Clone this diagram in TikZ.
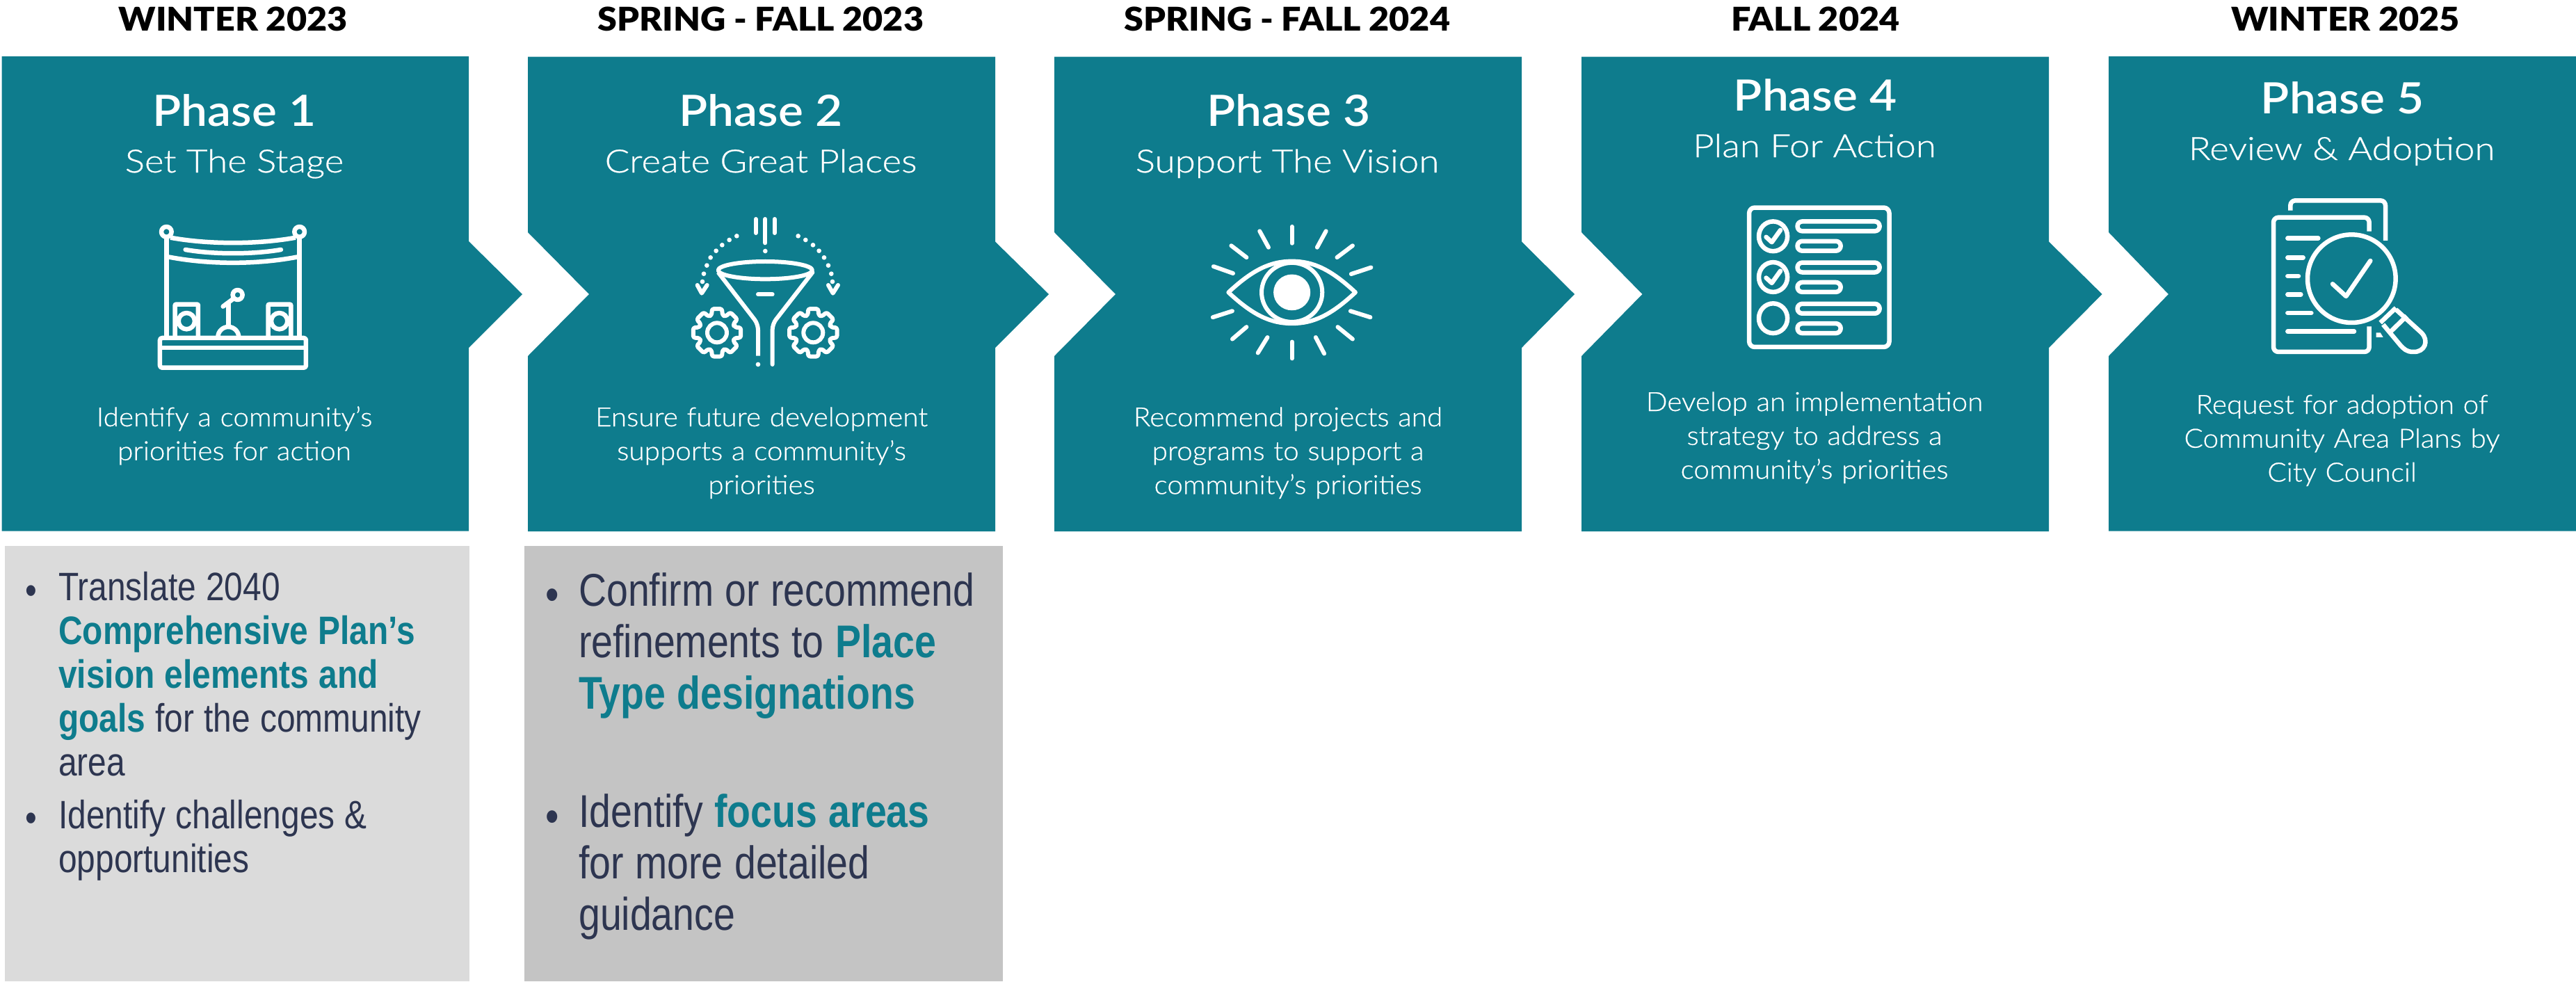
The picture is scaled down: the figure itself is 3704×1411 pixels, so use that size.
\documentclass[tikz,border=0pt]{standalone}
\usepackage{fontspec}
\setmainfont{Lato}
\newfontfamily\hdrfont[FakeStretch=1.07]{Lato Black}
\newfontfamily\ttlfont[FakeStretch=1.09]{Lato Semibold}
\newfontfamily\subfont[FakeStretch=1.15,FakeBold=.6]{Lato Light}
\newfontfamily\descfont[FakeStretch=1.065,FakeBold=.6]{Lato Light}
\newfontfamily\lowfont[FakeStretch=.84]{Liberation Sans}
\definecolor{teal}{HTML}{0E7C8D}
\definecolor{inkblue}{HTML}{2D3550}
\definecolor{lowone}{HTML}{DBDBDB}
\definecolor{lowtwo}{HTML}{C4C4C4}
\tikzset{
  phasebox/.style={fill=teal},
  hdr/.style={anchor=base,inner sep=0,text=black,font=\hdrfont\fontsize{47}{56}\selectfont},
  ttl/.style={anchor=base,inner sep=0,text=white,font=\ttlfont\fontsize{62}{72}\selectfont},
  sub/.style={anchor=base,inner sep=0,text=white,font=\subfont\fontsize{46}{56}\selectfont},
  descr/.style={anchor=base,inner sep=0,text=white,text width=650pt,align=center,font=\descfont\fontsize{38}{48.7}\selectfont},
  lowa/.style={anchor=base west,inner sep=0,text=inkblue,text width=580pt,align=left,font=\lowfont\fontsize{57}{63}\selectfont},
  lowb/.style={anchor=base west,inner sep=0,text=inkblue,text width=600pt,align=left,font=\lowfont\fontsize{66}{74}\selectfont},
  bula/.style={anchor=center,inner sep=0,text=inkblue,font=\lowfont\fontsize{57}{63}\selectfont},
  bulb/.style={anchor=center,inner sep=0,text=inkblue,font=\lowfont\fontsize{66}{74}\selectfont},
  icon/.style={draw=white,line width=6pt,line cap=round,line join=round},
  iconfill/.style={fill=white},
}
\newcommand{\hl}[1]{{\bfseries\color{teal}#1}}
\newcommand{\lowsp}{\setlength{\spaceskip}{.25em}}
\begin{document}
\begin{tikzpicture}[x=1pt,y=-1pt]
\useasboundingbox (0,0) rectangle (3704,1411);
% phase shapes
\fill[phasebox] (2.5,81)--(674,81)--(674,347)--(751,423)--(674,500)--(674,763.7)--(2.5,763.7)--cycle;
\fill[phasebox] (759,81.5)--(1431,81.5)--(1431,347.5)--(1508,423)--(1431,500)--(1431,764)--(759,764)--(759,512)--(847,423)--(759,334)--cycle;
\fill[phasebox] (1516,81.5)--(2188,81.5)--(2188,347.5)--(2264,423)--(2188,500)--(2188,764)--(1516,764)--(1516,512)--(1604,423)--(1516,334)--cycle;
\fill[phasebox] (2274,81.5)--(2946,81.5)--(2946,347.5)--(3022.6,423)--(2946,500)--(2946,764)--(2274,764)--(2274,512)--(2361.5,423)--(2274,334)--cycle;
\fill[phasebox] (3032,81)--(3704,81)--(3704,763.7)--(3032,763.7)--(3032,512)--(3118,423)--(3032,334)--cycle;
% lower panels
\fill[lowone] (7,785) rectangle (675,1411);
\fill[lowtwo] (754,785) rectangle (1442,1411);
% headers
\node[hdr] (h1) at (335,44) {WINTER 2023};
\node[hdr] (h2) at (1094,44) {SPRING - FALL 2023};
\node[hdr] (h3) at (1851,44) {SPRING - FALL 2024};
\node[hdr] (h4) at (2610.5,44) {FALL 2024};
\node[hdr] (h5) at (3372.6,44) {WINTER 2025};
% titles
\node[ttl] (t1) at (337,181.5) {Phase 1};
\node[ttl] (t2) at (1094,181.5) {Phase 2};
\node[ttl] (t3) at (1853,181.5) {Phase 3};
\node[ttl] (t4) at (2610,159) {Phase 4};
\node[ttl] (t5) at (3368,163) {Phase 5};
\node[sub] (s1) at (337,248) {Set The Stage};
\node[sub] (s2) at (1094,248) {Create Great Places};
\node[sub] (s3) at (1851,248) {Support The Vision};
\node[sub] (s4) at (2609,226) {Plan For Action};
\node[sub] (s5) at (3367,230) {Review \& Adoption};
\node[descr] (d1) at (337,613) {Identify a community’s\\priorities for action};
\node[descr] (d2) at (1095,613) {Ensure future development\\supports a community’s\\priorities};
\node[descr] (d3) at (1852,613) {Recommend projects and\\programs to support a\\community’s priorities};
\node[descr] (d4) at (2609,591) {Develop an implementation\\strategy to address a\\community’s priorities};
\node[descr] (d5) at (3367.5,595) {Request for adoption of\\Community Area Plans by\\City Council};
% lower text
\node[bula] (ba1) at (45,855) {•};
\node[lowa] (la1) at (84,863) {\lowsp Translate 2040\\\hl{Comprehensive Plan’s}\\\hl{vision elements and}\\\hl{goals} for the community\\area};
\node[bula] (ba2) at (45,1182) {•};
\node[lowa] (la2) at (84,1191) {\lowsp Identify challenges \&\\opportunities};
\node[bulb] (bb1) at (794,862) {•};
\node[lowb] (lb1) at (832,871) {\lowsp Confirm or recommend\\refinements to \hl{Place}\\\hl{Type designations}};
\node[bulb] (bb2) at (794,1181) {•};
\node[lowb] (lb2) at (832,1189.5) {\lowsp Identify \hl{focus areas}\\for more detailed\\guidance};
% icon 1 : stage
\begin{scope}[shift={(200,290)},x=.3333pt,y=-.3333pt,every path/.append style={icon,line width=6.5pt}]
  \draw (118,130) circle[radius=22];
  \draw (692,130) circle[radius=22];
  \draw[line cap=butt] (118,152)--(118,585);
  \draw[line cap=butt] (692,152)--(692,585);
  \draw[line cap=butt] (135,155) .. controls (300,185) and (510,185) .. (675,155);
  \draw[line cap=butt] (125,238) .. controls (300,272) and (510,272) .. (685,238);
  \draw (200,207) .. controls (320,228) and (490,228) .. (612,207);
  \draw[rounded corners=3pt] (90,588) rectangle (720,716);
  \draw[line cap=butt] (90,630)--(720,630);
  \draw[line cap=butt,rounded corners=1pt] (155,585)--(155,443)--(255,443)--(255,585);
  \draw[line cap=butt,rounded corners=1pt] (557,585)--(557,443)--(655,443)--(655,585);
  \draw (205,515) circle[radius=35];
  \draw (605,515) circle[radius=35];
  \draw (425,402) circle[radius=21];
  \draw (405,420)--(362,452);
  \draw[line cap=butt] (385,430)--(385,540);
  \draw[line cap=butt] (340,585) arc[start angle=180,end angle=360,radius=45];
\end{scope}
% icon 2 : funnel
\begin{scope}[shift={(960,290)},x=.3333pt,y=-.3333pt,every path/.append style={icon,line width=6pt}]
  \draw (380,75)--(380,135);
  \draw (421,75)--(421,178);
  \draw (461,75)--(461,135);
  \foreach \px/\py in {421/213,298/148,266/165,235/187,209/212,185/241,169/275,156/311,150/345,563/148,595/165,627/187,653/212,675/241,693/275,706/311,711/345,390/702}
    \fill[draw=none,iconfill] (\px,\py) circle[radius=10];
  \draw (128,360)--(147,395)--(170,360);
  \draw (693,360)--(713,395)--(735,360);
  \draw (421,296) ellipse[x radius=203,y radius=38];
  \draw[rounded corners=8pt,line cap=butt] (218,305)--(390,528)--(390,665);
  \draw[rounded corners=8pt] (625,305)--(452,528)--(452,702);
  \draw (390,400)--(452,400);
  \foreach \gx in {213,628}{
    \draw (\gx,565) circle[radius=42];
    \begin{scope}[shift={(\gx,565)}]
      \draw[rounded corners=3pt] (-17:79) \foreach \a in {0,45,...,315} { -- (\a-17:79) -- (\a-12:105) -- (\a+12:105) -- (\a+17:79) } -- cycle;
    \end{scope}
  }
\end{scope}
% icon 3 : eye
\begin{scope}[shift={(1500,0)},x=.5102pt,y=-.4975pt,every path/.append style={icon,line width=6pt}]
  \draw (522,845) .. controls (590,780) and (640,755) .. (701,755) .. controls (762,755) and (812,780) .. (880,845) .. controls (812,910) and (762,935) .. (701,935) .. controls (640,935) and (590,910) .. (522,845) -- cycle;
  \draw (701,845) circle[radius=85.5];
  \fill[draw=none,iconfill] (701,845) circle[radius=52];
  \foreach \ax/\ay/\bx/\by in {701/655/701/703,610/668/635/715,530/710/573/744,480/770/535/790,478/917/533/899,533/980/573/945,605/1020/632/975,701/988/701/1036,768/975/792/1022,830/945/872/980,866/899/922/917,868/792/924/773,828/744/872/710,772/715/797/668}
    \draw (\ax,\ay)--(\bx,\by);
\end{scope}
% icon 4 : checklist
\begin{scope}[shift={(2250,0)},x=.4785pt,y=-.4975pt,every path/.append style={icon,line width=6.5pt}]
  \draw[rounded corners=8pt] (554,600) rectangle (975,1003);
  \foreach \cy in {683,801,920}
    \draw (626,\cy) circle[radius=43];
  \draw (605,685)--(622,700)--(648,665);
  \draw (605,803)--(622,818)--(648,783);
  \foreach \ry in {640,759,878}
    \draw[rounded corners=6.9pt] (699,\ry) rectangle (946,\ry+28);
  \foreach \ry in {697,816,935}
    \draw[rounded corners=6.9pt] (699,\ry) rectangle (829,\ry+28);
\end{scope}
% icon 5 : document and magnifier
\begin{scope}[shift={(3230,270)},x=.3333pt,y=-.3333pt,every path/.append style={icon,line width=6.5pt}]
  \draw[rounded corners=7pt,line cap=butt] (190,98)--(190,55)--(600,55)--(600,228);
  \draw[rounded corners=7pt,line cap=butt] (530,188)--(530,128)--(117,128)--(117,708)--(530,708)--(530,598);
  \draw (178,218)--(310,218);
  \draw (178,301)--(245,301);
  \draw (178,381)--(225,381);
  \draw (178,460)--(235,460);
  \draw (178,540)--(280,540);
  \draw (178,620)--(465,620);
  \draw (454,392) circle[radius=190];
  \draw (372,415)--(430,468)--(535,315);
  \draw[line cap=butt] (645,525)--(755,625) .. controls (790,660) and (770,710) .. (720,708) .. controls (690,708) and (680,695) .. (665,680) -- (590,590);
  \draw[line cap=butt] (578,582)--(645,518);
  \draw[line cap=butt] (625,618)--(692,553);
  \fill[draw=none,iconfill] (560,625)--(578,625)--(590,645)--(560,645)--cycle;
\end{scope}
\end{tikzpicture}
\end{document}
